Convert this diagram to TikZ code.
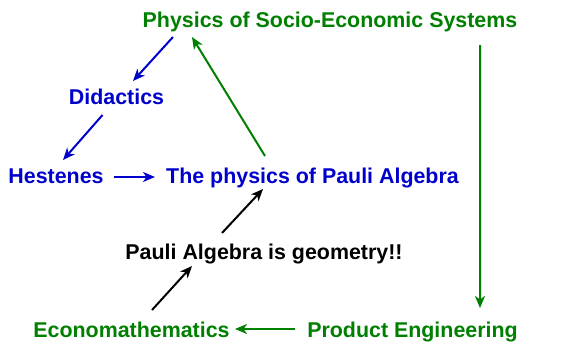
\documentclass[tikz,border=0pt]{standalone}
\usepackage{fontspec}
\setmainfont{Liberation Sans}
\usetikzlibrary{arrows.meta,calc}
\definecolor{dgreen}{HTML}{008000}
\definecolor{dblue}{HTML}{0000CC}
\tikzset{
  lbl/.style={anchor=base,inner sep=0pt,font=\fontsize{21.4bp}{25bp}\selectfont\bfseries},
  conn/.style={line width=2bp,-{Stealth[length=12bp,width=10bp,inset=3.5bp]}},
}
\begin{document}
\begin{tikzpicture}[x=1bp,y=-1bp]
\useasboundingbox (0,0) rectangle (578,344);
\node[lbl,text=dgreen] (pses) at (330,27) {Physics of Socio-Economic Systems};
\node[lbl,text=dblue] (did) at (116.5,104) {Didactics};
\node[lbl,text=dblue] (hes) at (56,183) {Hestenes};
\node[lbl,text=dblue] (pauli) at (312.5,183) {The physics of Pauli Algebra};
\node[lbl,text=black] (geom) at (264,259) {Pauli Algebra is geometry!!};
\node[lbl,text=dgreen] (econ) at (131.5,337.5) {Economathematics};
\node[lbl,text=dgreen] (prod) at (412.5,337.5) {Product Engineering};
\draw[conn,dblue] ($(pses.base)+(-157,10)$) -- ($(did.base)+(16.5,-23)$);
\draw[conn,dblue] ($(did.base)+(-14,11)$) -- ($(hes.base)+(7,-23)$);
\draw[conn,dblue] ($(hes.base)+(58,-6)$) -- ($(pauli.base)+(-157.5,-6)$);
\draw[conn,dgreen] ($(pauli.base)+(-47.5,-27)$) -- ($(pses.base)+(-138,10)$);
\draw[conn,dgreen] ($(pses.base)+(150,18)$) -- ($(prod.base)+(67.5,-29.5)$);
\draw[conn,dgreen] ($(prod.base)+(-117.5,-8.5)$) -- ($(econ.base)+(103.5,-8.5)$);
\draw[conn,black] ($(econ.base)+(20.5,-27.5)$) -- ($(geom.base)+(-72,7)$);
\draw[conn,black] ($(geom.base)+(-42,-26)$) -- ($(pauli.base)+(-49.5,6)$);
\end{tikzpicture}
\end{document}
